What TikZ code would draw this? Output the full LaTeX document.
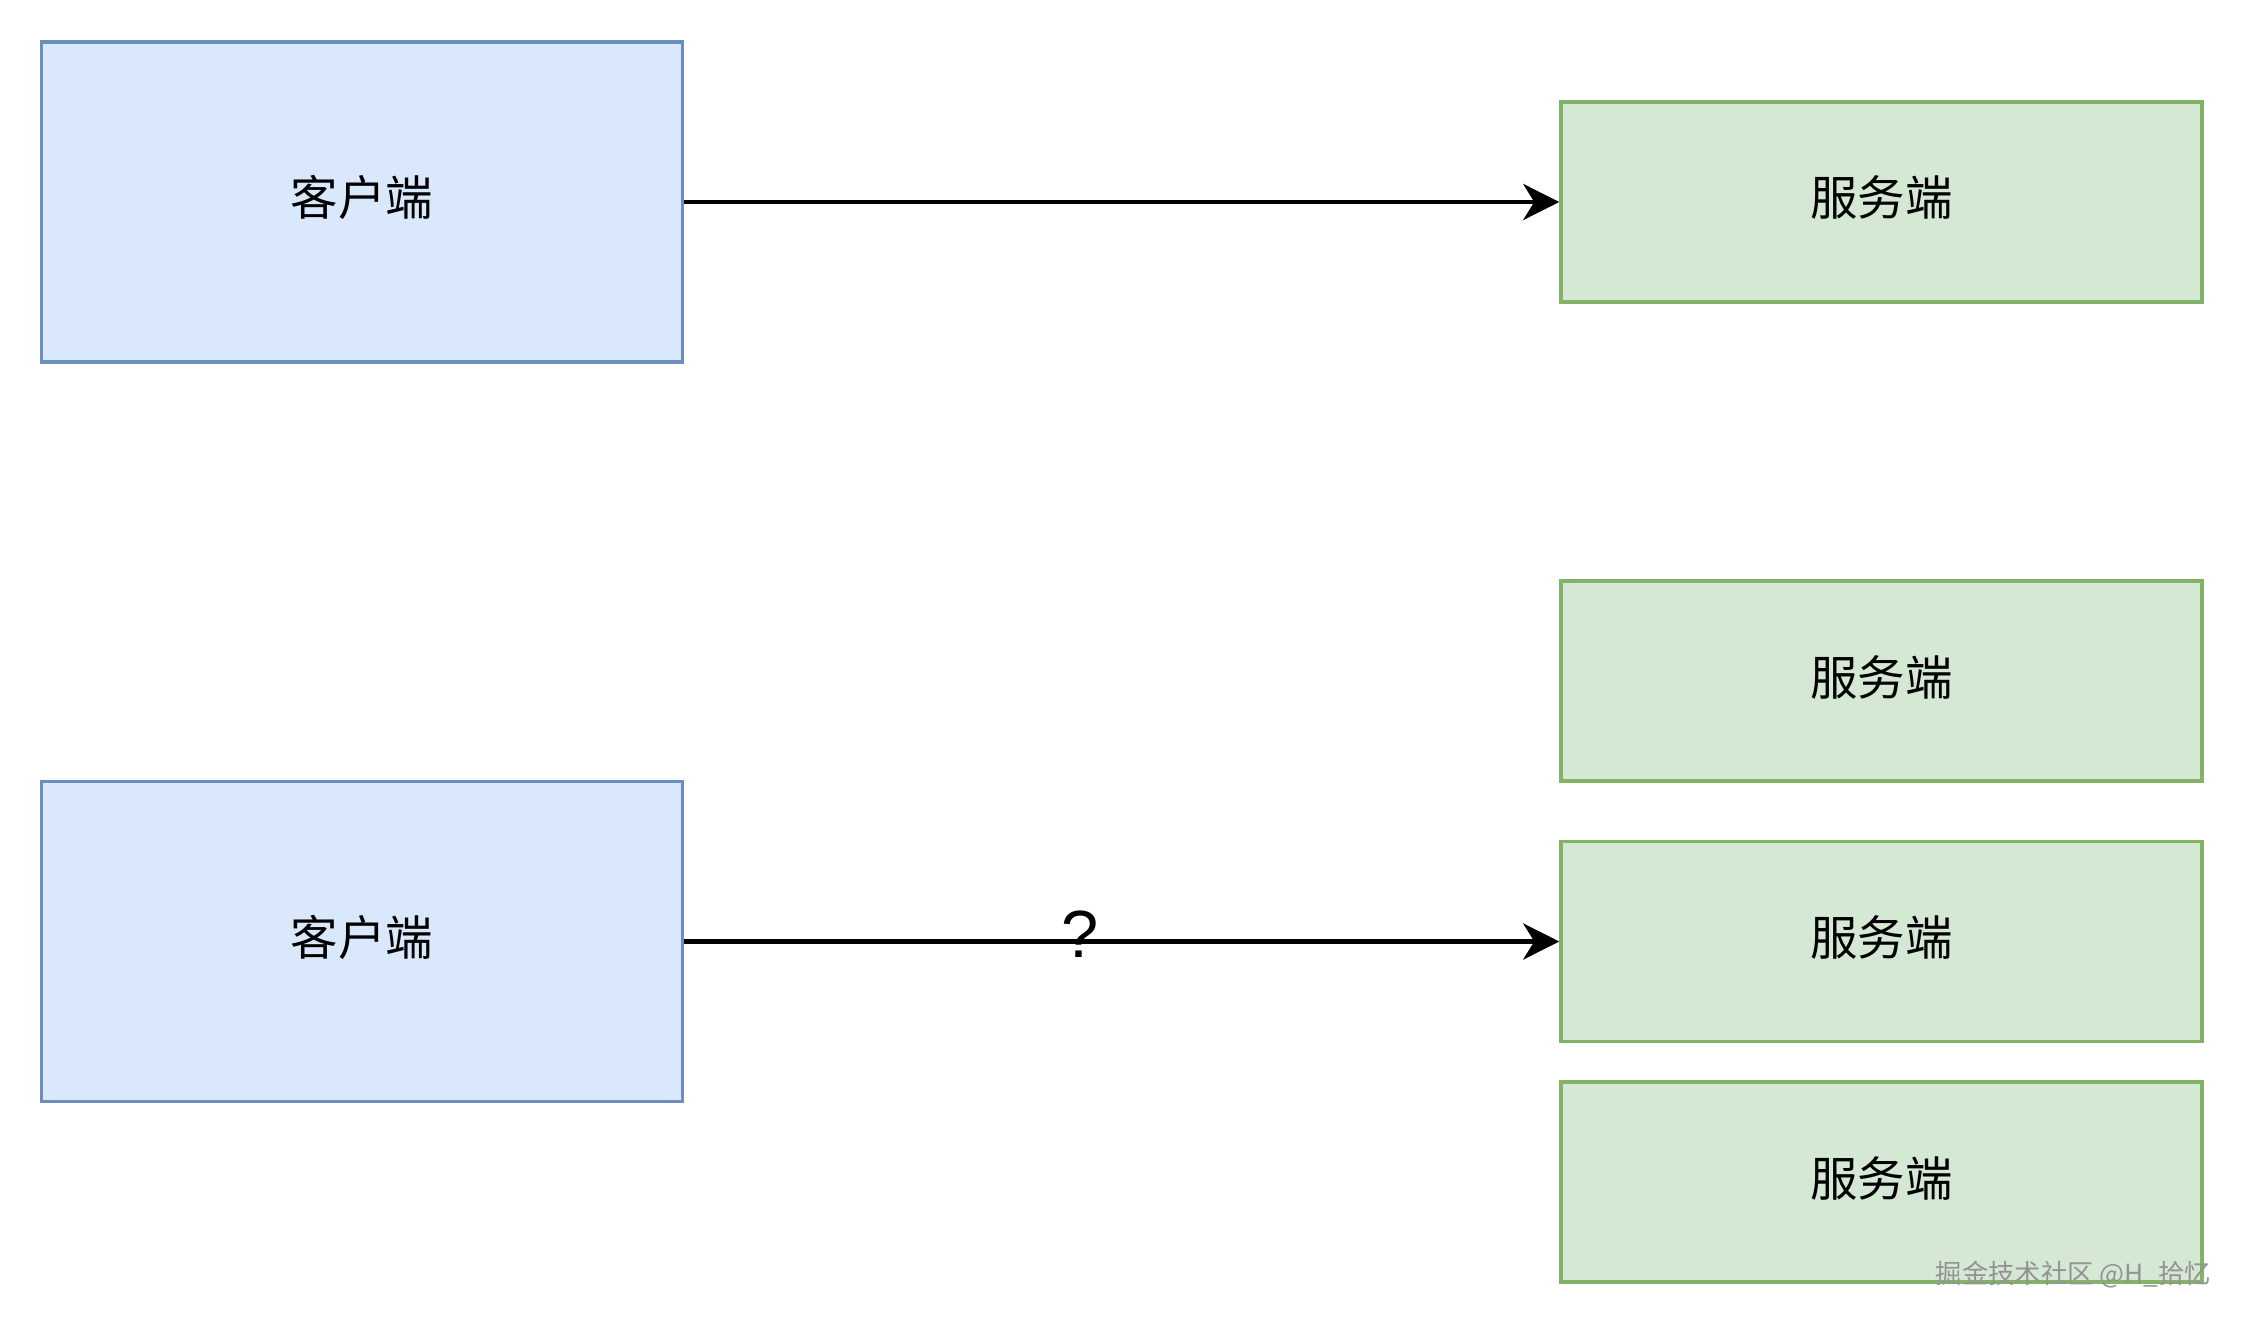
\documentclass[tikz,border=0pt]{standalone}
\usepackage{fontspec}
\setmainfont{Noto Sans CJK SC}
\newfontfamily\qfont{Liberation Sans}
\usetikzlibrary{arrows.meta}

\definecolor{clientfill}{HTML}{DAE8FC}
\definecolor{clientdraw}{HTML}{6C8EBF}
\definecolor{serverfill}{HTML}{D5E8D4}
\definecolor{serverdraw}{HTML}{82B366}

\tikzset{
  client/.style={draw=clientdraw,fill=clientfill,line width=1pt,
                 minimum width=6.41cm,minimum height=3.2cm,
                 text height=0.36cm,text depth=0.08cm,
                 font=\fontsize{13.5pt}{15pt}\selectfont},
  server/.style={draw=serverdraw,fill=serverfill,line width=1pt,
                 minimum width=6.41cm,minimum height=2cm,
                 text height=0.36cm,text depth=0.08cm,
                 font=\fontsize{13.5pt}{15pt}\selectfont},
  EdgeStyle/.style={line width=1.4pt,-{Stealth[length=0.36cm,width=0.36cm,inset=0.11cm]}}
}

\begin{document}
\begin{tikzpicture}
  \useasboundingbox (0,0) rectangle (22.44,13.24);

  % one client, one server
  \node[client] (c1) at (3.62,11.22) {客户端};
  \node[server] (s1) at (18.815,11.22) {服务端};
  \draw[EdgeStyle] (c1) -- (s1);

  % one client, many servers
  \node[client] (c2) at (3.62,3.825) {客户端};
  \node[server] (s2) at (18.815,6.43) {服务端};
  \node[server] (s3) at (18.815,3.825) {服务端};
  \node[server] (s4) at (18.815,1.42) {服务端};
  \draw[EdgeStyle] (c2) -- (s3);
  \node [font=\qfont\fontsize{19pt}{21pt}\selectfont] (q) at (10.8,3.9) {?};

  \node [text=gray!85,inner sep=0pt,font=\fontsize{7.5pt}{9pt}\selectfont,anchor=east] (mark) at (22.12,0.49) {掘金技术社区 @H\_拾忆};

\end{tikzpicture}
\end{document}
